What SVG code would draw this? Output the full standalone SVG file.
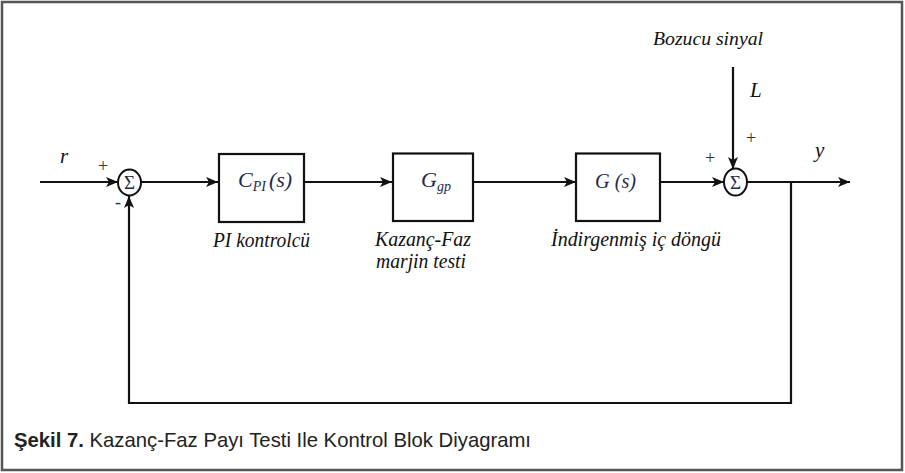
<svg xmlns="http://www.w3.org/2000/svg" width="905" height="473" viewBox="0 0 905 473">
<style>
.ln{fill:none;stroke:#111;stroke-width:2.2}
.bx{fill:#fff;stroke:#111;stroke-width:2.2}
.sm{fill:#fff;stroke:#111;stroke-width:2}
</style>
<defs>
<marker id="ar" viewBox="0 0 12 10" refX="12" refY="5" markerWidth="12" markerHeight="10" markerUnits="userSpaceOnUse" orient="auto">
<path d="M0,0 L12,5 L0,10 L3,5 z" fill="#111"/>
</marker>
</defs>
<rect x="2" y="2" width="900" height="468" fill="#fff" stroke="#555" stroke-width="2.5"/>
<g id="connectors">
<line class="ln" x1="40" y1="182" x2="118" y2="182" marker-end="url(#ar)"/>
<line class="ln" x1="141" y1="182" x2="218" y2="182" marker-end="url(#ar)"/>
<line class="ln" x1="304" y1="182" x2="392" y2="182" marker-end="url(#ar)"/>
<line class="ln" x1="473" y1="182" x2="576" y2="182" marker-end="url(#ar)"/>
<line class="ln" x1="660" y1="182" x2="724" y2="182" marker-end="url(#ar)"/>
<line class="ln" x1="747" y1="182" x2="850" y2="182" marker-end="url(#ar)"/>
<line class="ln" x1="733" y1="67" x2="733" y2="169" marker-end="url(#ar)"/>
<polyline class="ln" points="791,182 791,403 129,403 129,196" stroke-width="2.6" marker-end="url(#ar)"/>
</g>
<g font-family="Liberation Serif, serif" font-style="italic" fill="#111">
<g id="sum1">
<ellipse class="sm" cx="129.5" cy="182.5" rx="11.5" ry="13"/>
<text x="129.5" y="189" font-size="19" font-style="normal" fill="#1d2a4e" text-anchor="middle">Σ</text>
</g>
<g id="sum2">
<ellipse class="sm" cx="735.5" cy="182" rx="11.5" ry="13.5"/>
<text x="735.5" y="188.5" font-size="19" font-style="normal" fill="#1d2a4e" text-anchor="middle">Σ</text>
</g>
<g id="cpi">
<rect class="bx" x="219" y="154" width="85" height="68"/>
<text x="238" y="187" font-size="22" fill="#1d2a4e">C<tspan font-size="14" dy="4">PI</tspan><tspan dy="-4" dx="3">(s)</tspan></text>
<text x="213" y="247" font-size="20" textLength="97" lengthAdjust="spacingAndGlyphs">PI kontrolcü</text>
</g>
<g id="ggp">
<rect class="bx" x="393" y="153.5" width="80" height="67.5"/>
<text x="421" y="187" font-size="22" fill="#1d2a4e">G<tspan font-size="14" dy="4">gp</tspan></text>
<text x="375" y="246" font-size="20" textLength="96" lengthAdjust="spacingAndGlyphs">Kazanç-Faz</text>
<text x="376" y="268" font-size="20" textLength="90" lengthAdjust="spacingAndGlyphs">marjin testi</text>
</g>
<g id="gs">
<rect class="bx" x="576" y="153.5" width="84" height="67.5"/>
<text x="595" y="188" font-size="22" fill="#1d2a4e" textLength="41" lengthAdjust="spacingAndGlyphs">G (s)</text>
<text x="551" y="246" font-size="20" textLength="170" lengthAdjust="spacingAndGlyphs">İndirgenmiş iç döngü</text>
</g>
<g id="labels">
<text x="653" y="45" font-size="19" textLength="110" lengthAdjust="spacingAndGlyphs">Bozucu sinyal</text>
<text x="750" y="97" font-size="21">L</text>
<text x="746" y="144" font-size="18" font-style="normal" fill="#333">+</text>
<text x="705" y="164" font-size="18" font-style="normal" fill="#333">+</text>
<text x="815" y="157" font-size="21">y</text>
<text x="60" y="163" font-size="21">r</text>
<text x="98" y="172" font-size="18" font-style="normal" fill="#333">+</text>
<text x="115" y="208" font-size="18" font-style="normal" fill="#333">-</text>
</g>
</g>
<text font-family="Liberation Sans, Arial, sans-serif" fill="#222" x="14" y="447" font-size="21" textLength="517" lengthAdjust="spacingAndGlyphs"><tspan font-weight="bold">Şekil 7.</tspan> Kazanç-Faz Payı Testi Ile Kontrol Blok Diyagramı</text>
</svg>
